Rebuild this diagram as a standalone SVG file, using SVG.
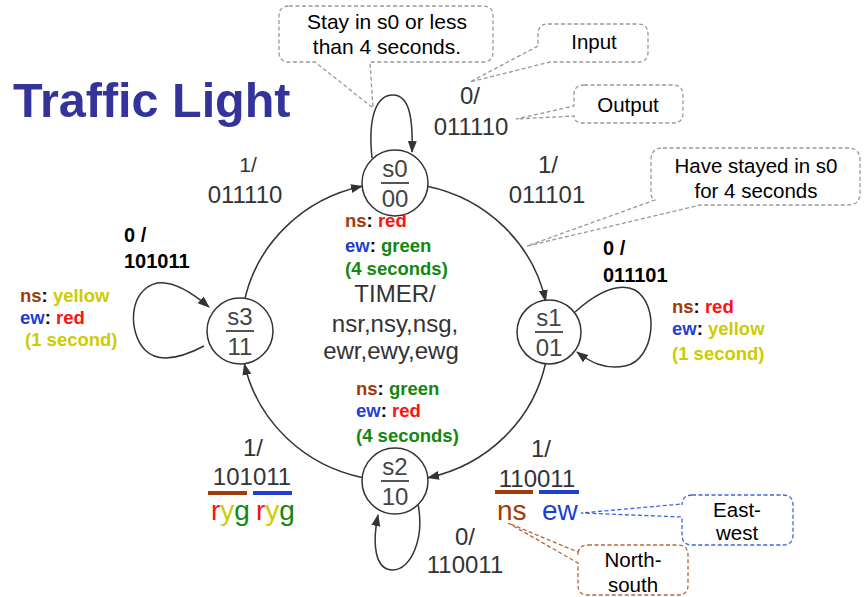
<svg xmlns="http://www.w3.org/2000/svg" width="864" height="597" viewBox="0 0 864 597">
<defs>
<marker id="arr" markerUnits="userSpaceOnUse" markerWidth="12" markerHeight="10" refX="11" refY="5" orient="auto">
<path d="M0,0.5 L12,5 L0,9.5 Z" fill="#333"/>
</marker>
<style>
text{font-family:"Liberation Sans",Arial,sans-serif}
.lbl{font-size:24px;fill:#333;text-anchor:middle}
.st{font-size:24px;fill:#444;text-anchor:middle}
.bk{font-size:20px;font-weight:bold;fill:#000}
.ann{font-size:18.5px;font-weight:bold;fill:#000}
.co{font-size:20.5px;fill:#000;text-anchor:middle}
.big{font-size:28px}
.ns{fill:#a03c0a}.ew{fill:#1f3fd0}.rd{fill:#ff1111}.gr{fill:#118811}.yl{fill:#cccc00}
.node{fill:#fff;stroke:#333;stroke-width:1.5}
.edge{fill:none;stroke:#333;stroke-width:1.5;marker-end:url(#arr)}
.call{fill:none;stroke:#999;stroke-width:1.3;stroke-dasharray:4 2.5}
</style>
</defs>
<rect width="864" height="597" fill="#fff"/>
<text x="13" y="117" style="font-size:48.5px;font-weight:bold;fill:#333399">Traffic Light</text>

<g id="connectors">
<path class="edge" d="M427,186.3 A154,149 0 0 1 545.6,301"/>
<path class="edge" d="M545.6,363 A154,149 0 0 1 428,477.7"/>
<path class="edge" d="M363,477.7 A154,149 0 0 1 244.4,364"/>
<path class="edge" d="M244.4,301 A154,149 0 0 1 362,186.3"/>
<path class="edge" d="M372,158 C368,120 375,95 393,95 C410,95 413,120 412,152"/>
<path class="edge" d="M575,312 C600,290 620,283 635,290 C660,305 655,360 625,366 C605,370 590,362 577,352"/>
<path class="edge" d="M204,346 C185,356 160,365 145,350 C128,332 128,290 157,283 C175,280 195,295 209,307"/>
<path class="edge" d="M418,504 C425,540 410,570 393,570 C375,570 372,545 378,515"/>
</g>

<g id="s0"><circle class="node" cx="395" cy="183" r="33"/><text class="st" x="395" y="177">s0</text><line x1="381" y1="183" x2="409" y2="183" stroke="#555" stroke-width="2"/><text class="st" x="395" y="207">00</text></g>
<g id="s1"><circle class="node" cx="549" cy="332" r="32"/><text class="st" x="549" y="326">s1</text><line x1="535" y1="332" x2="563" y2="332" stroke="#555" stroke-width="2"/><text class="st" x="549" y="356">01</text></g>
<g id="s2"><circle class="node" cx="395" cy="481" r="33"/><text class="st" x="395" y="475">s2</text><line x1="381" y1="481" x2="409" y2="481" stroke="#555" stroke-width="2"/><text class="st" x="395" y="505">10</text></g>
<g id="s3"><circle class="node" cx="240" cy="331" r="33"/><text class="st" x="240" y="325">s3</text><line x1="226" y1="331" x2="254" y2="331" stroke="#555" stroke-width="2"/><text class="st" x="240" y="355">11</text></g>

<g id="labels">
<text class="lbl" x="470" y="104">0/</text><text class="lbl" x="471" y="135">011110</text>
<text class="lbl" x="548" y="173">1/</text><text class="lbl" x="547" y="203">011101</text>
<text class="lbl" x="248" y="172" style="font-size:21px">1/</text><text class="lbl" x="245" y="203">011110</text>
<text class="lbl" x="253" y="456">1/</text><text class="lbl" x="252" y="485">101011</text>
<text class="lbl" x="541" y="457">1/</text><text class="lbl" x="537" y="487">110011</text>
<text class="lbl" x="465" y="545">0/</text><text class="lbl" x="465" y="573">110011</text>
<text class="bk" x="124" y="242">0 /</text><text class="bk" x="124" y="268">101011</text>
<text class="bk" x="603" y="255">0 /</text><text class="bk" x="603" y="282">011101</text>
<text class="lbl" x="395" y="302">TIMER/</text>
<text class="lbl" x="395" y="332">nsr,nsy,nsg,</text>
<text class="lbl" x="391" y="359">ewr,ewy,ewg</text>
</g>

<g id="annotations">
<text class="ann" x="345" y="227"><tspan class="ns">ns</tspan>: <tspan class="rd">red</tspan></text>
<text class="ann" x="345" y="252"><tspan class="ew">ew</tspan>: <tspan class="gr">green</tspan></text>
<text class="ann gr" x="345" y="275">(4 seconds)</text>
<text class="ann" x="672" y="313"><tspan class="ns">ns</tspan>: <tspan class="rd">red</tspan></text>
<text class="ann" x="672" y="335"><tspan class="ew">ew</tspan>: <tspan class="yl">yellow</tspan></text>
<text class="ann yl" x="672" y="360">(1 second)</text>
<text class="ann" x="20" y="302"><tspan class="ns">ns</tspan>: <tspan class="yl">yellow</tspan></text>
<text class="ann" x="20" y="324"><tspan class="ew">ew</tspan>: <tspan class="rd">red</tspan></text>
<text class="ann yl" x="25" y="346">(1 second)</text>
<text class="ann" x="356" y="395"><tspan class="ns">ns</tspan>: <tspan class="gr">green</tspan></text>
<text class="ann" x="356" y="417"><tspan class="ew">ew</tspan>: <tspan class="rd">red</tspan></text>
<text class="ann gr" x="356" y="442">(4 seconds)</text>
</g>

<g id="legend">
<rect x="208" y="491" width="39" height="4" fill="#a03c0a"/>
<rect x="253" y="491" width="39" height="4" fill="#1f3fd0"/>
<text class="big" x="211" y="520"><tspan class="rd">r</tspan><tspan class="yl">y</tspan><tspan class="gr">g</tspan></text>
<text class="big" x="256" y="520"><tspan class="rd">r</tspan><tspan class="yl">y</tspan><tspan class="gr">g</tspan></text>
<rect x="495" y="490" width="38" height="4" fill="#a03c0a"/>
<rect x="539" y="490" width="40" height="4" fill="#1f3fd0"/>
<text class="big ns" x="497" y="520">ns</text>
<text class="big ew" x="542" y="520">ew</text>
</g>

<g id="callout-stay">
<path class="call" d="M289,6 H483 Q493,6 493,16 V52 Q493,62 483,62 H370 L373,108 L315,62 H289 Q279,62 279,52 V16 Q279,6 289,6 Z"/>
<text class="co" x="387" y="29" style="font-size:21px">Stay in s0 or less</text>
<text class="co" x="387" y="54" style="font-size:21px">than 4 seconds.</text>
</g>
<g id="callout-input">
<path class="call" d="M548,24 H638 Q648,24 648,34 V52 Q648,62 638,62 H550 L470,82 L538,46 V34 Q538,24 548,24 Z"/>
<text class="co" x="594" y="49">Input</text>
</g>
<g id="callout-output">
<path class="call" d="M584,85 H673 Q683,85 683,95 V113 Q683,123 673,123 H584 Q574,123 574,116 L516,119 L574,106 V95 Q574,85 584,85 Z"/>
<text class="co" x="628" y="112">Output</text>
</g>
<g id="callout-stayed">
<path class="call" d="M663,148 H848 Q860,148 860,160 V193 Q860,205 848,205 H700 L527,246 L655,200 Q651,198 651,193 V160 Q651,148 663,148 Z"/>
<text class="co" x="756" y="173">Have stayed in s0</text>
<text class="co" x="756" y="198">for 4 seconds</text>
</g>
<g id="callout-east">
<path class="call" style="stroke:#3a66dd" d="M692,495 H783 Q793,495 793,505 V535 Q793,545 783,545 H692 Q682,545 682,535 V517 L581,513 L682,504 V505 Q682,495 692,495 Z"/>
<text class="co" x="737" y="517">East-</text>
<text class="co" x="737" y="540">west</text>
</g>
<g id="callout-north">
<path class="call" style="stroke:#b8653a" d="M588,545 H678 Q688,545 688,555 V585 Q688,595 678,595 H588 Q578,595 578,585 V563 L508,523 L578,552 V555 Q578,545 588,545 Z"/>
<text class="co" x="633" y="567">North-</text>
<text class="co" x="633" y="592">south</text>
</g>
</svg>
